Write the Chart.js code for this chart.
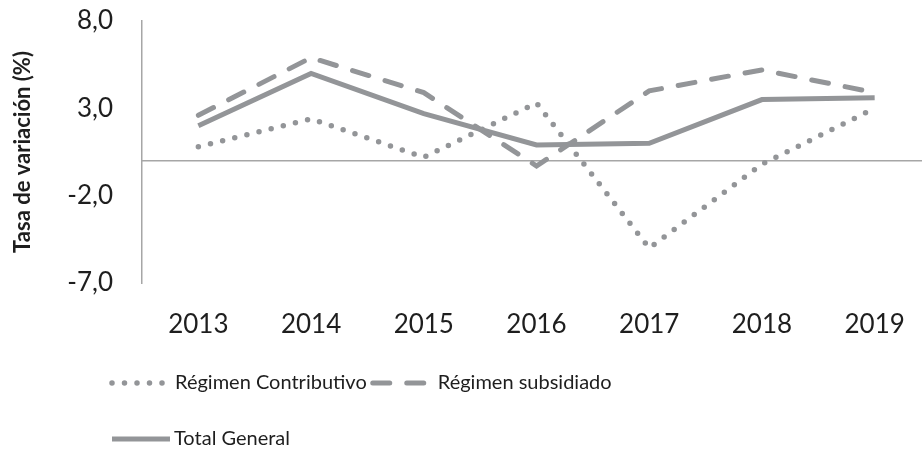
<!DOCTYPE html>
<html>
<head>
<meta charset="utf-8">
<script src="https://cdn.jsdelivr.net/npm/chart.js@4.4.0/dist/chart.umd.min.js"></script>
<style>
  html, body { margin: 0; padding: 0; background: #fff; overflow: hidden; }
  #wrap { width: 922px; height: 457px; }
</style>
</head>
<body>
<div id="wrap"><canvas id="chart" width="922" height="457"></canvas></div>
<script>
const years = [2013, 2014, 2015, 2016, 2017, 2018, 2019];
const contributivo = [0.8, 2.4, 0.2, 3.3, -5.0, -0.2, 3.0];
const subsidiado = [2.6, 5.9, 3.9, -0.3, 4.0, 5.2, 3.9];
const totalGeneral = [2.0, 5.0, 2.7, 0.9, 1.0, 3.5, 3.6];
const yTicks = [-7, -2, 3, 8];
const seriesNames = ['Régimen Contributivo', 'Régimen subsidiado', 'Total General'];

const lineGray = '#939598';
const axisGray = '#a6a6a6';
const textColor = '#1e1e1e';
const fontFamily = 'Lato, "Open Sans", sans-serif';

function toPoints(values) {
    return values.map((v, i) => ({ x: years[i], y: v }));
}

// horizontal line at zero, drawn through the y scale
const zeroLine = {
    id: 'zeroLine',
    beforeDatasetsDraw(chart) {
        const { ctx, chartArea, scales } = chart;
        const y = scales.y.getPixelForValue(0);
        ctx.save();
        ctx.strokeStyle = axisGray;
        ctx.lineWidth = 1.5;
        ctx.beginPath();
        ctx.moveTo(chartArea.left, y);
        ctx.lineTo(chartArea.right, y);
        ctx.stroke();
        ctx.restore();
    }
};

// legend laid out like the original: two items on the first row, one below
const rowLegend = {
    id: 'rowLegend',
    afterDraw(chart) {
        const { ctx } = chart;
        const rows = [[0, 1], [2]];
        const rowY = [383, 439];
        const sample = [52, 54, 58];
        ctx.save();
        ctx.font = '20px ' + fontFamily;
        ctx.textBaseline = 'middle';
        rows.forEach((row, r) => {
            let x = 112;
            row.forEach(i => {
                const ds = chart.data.datasets[i];
                ctx.strokeStyle = ds.borderColor;
                ctx.lineWidth = ds.borderWidth;
                ctx.lineCap = ds.borderCapStyle || 'butt';
                ctx.setLineDash(ds.borderDash || []);
                ctx.beginPath();
                ctx.moveTo(x, rowY[r]);
                ctx.lineTo(x + sample[i], rowY[r]);
                ctx.stroke();
                ctx.setLineDash([]);
                x += sample[i] + (i === 2 ? 4 : 11);
                ctx.fillStyle = textColor;
                ctx.fillText(ds.label, x, rowY[r]);
                x += ctx.measureText(ds.label).width + 6;
            });
        });
        ctx.restore();
    }
};

new Chart(document.getElementById('chart'), {
    type: 'line',
    data: {
        datasets: [
            {
                label: seriesNames[0],
                data: toPoints(contributivo),
                borderColor: lineGray,
                borderWidth: 5.5,
                borderDash: [0, 12.5],
                borderCapStyle: 'round',
                pointRadius: 0,
                tension: 0
            },
            {
                label: seriesNames[1],
                data: toPoints(subsidiado),
                borderColor: lineGray,
                borderWidth: 5,
                borderDash: [17, 17],
                borderCapStyle: 'round',
                pointRadius: 0,
                tension: 0
            },
            {
                label: seriesNames[2],
                data: toPoints(totalGeneral),
                borderColor: lineGray,
                borderWidth: 5,
                pointRadius: 0,
                tension: 0
            }
        ]
    },
    options: {
        responsive: false,
        animation: false,
        layout: { padding: { top: 21, right: 0, left: 0, bottom: 0 } },
        plugins: {
            legend: { display: false },
            tooltip: { enabled: false }
        },
        scales: {
            x: {
                type: 'linear',
                min: 2012.5,
                max: 2019.42,
                grid: { display: false, drawTicks: false },
                border: { display: false },
                afterFit(scale) {
                    scale.height = 174;
                    scale.paddingLeft = 0;
                    scale.paddingRight = 0;
                },
                afterBuildTicks(scale) {
                    scale.ticks = years.map(v => ({ value: v }));
                },
                ticks: {
                    padding: 26,
                    color: textColor,
                    font: { family: fontFamily, size: 26 },
                    callback: v => String(v)
                }
            },
            y: {
                min: -7,
                max: 8,
                grid: { display: false, drawTicks: false },
                border: { display: true, color: axisGray, width: 1.5 },
                afterFit(scale) {
                    scale.width = 142;
                    scale.paddingTop = 0;
                    scale.paddingBottom = 0;
                },
                afterBuildTicks(scale) {
                    scale.ticks = yTicks.map(v => ({ value: v }));
                },
                ticks: {
                    padding: 29,
                    color: textColor,
                    font: { family: fontFamily, size: 26 },
                    callback: v => v.toFixed(1).replace('.', ',')
                },
                title: {
                    display: true,
                    text: 'Tasa de variación (%)',
                    color: textColor,
                    font: { family: fontFamily, size: 22, weight: 'bold' },
                    padding: { top: 10, bottom: 0 }
                }
            }
        }
    },
    plugins: [zeroLine, rowLegend]
});
</script>
</body>
</html>
